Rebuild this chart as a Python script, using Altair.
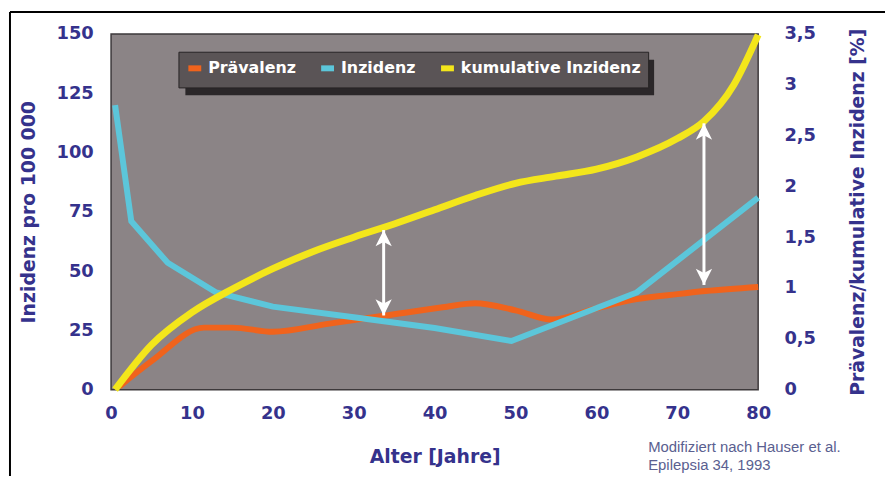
import altair as alt
import pandas as pd

# ---- data ----
ages_prev = [1, 5, 11.5, 15, 20, 27, 34, 41, 45, 50, 54.5, 60, 65, 70, 73.5, 80]
prevalence = [0.03, 0.28, 0.61, 0.61, 0.57, 0.65, 0.73, 0.81, 0.85, 0.78, 0.69, 0.80, 0.89, 0.94, 0.97, 1.01]

ages_inz = [0.5, 2.5, 7, 13, 20, 30, 40, 49.5, 65, 80]
incidence = [120, 71, 53.5, 41, 35, 30.5, 26, 20.5, 41, 81]

ages_kum = [0.5, 5, 10, 15, 20, 25, 30, 35, 40, 45, 50, 55, 60, 65, 70, 73.3, 77, 80]
cumulative = [0.0, 0.44, 0.76, 0.99, 1.19, 1.36, 1.5, 1.63, 1.77, 1.91, 2.03, 2.1, 2.17, 2.29, 2.47, 2.64, 3.0, 3.49]

arrow_ages = [33.7, 73.3]
arrow_low = [0.73, 1.03]
arrow_high = [1.57, 2.62]

series_names = ["Prävalenz", "Inzidenz", "kumulative Inzidenz"]
series_colors = ["#f0631c", "#5cc6da", "#f3e61b"]

x_ticks = [0, 10, 20, 30, 40, 50, 60, 70, 80]
left_ticks = [0, 25, 50, 75, 100, 125, 150]
right_ticks = [0, 0.5, 1, 1.5, 2, 2.5, 3, 3.5]

note_lines = ["Modifiziert nach Hauser et al.", "Epilepsia 34, 1993"]

# ---- tables ----
prev_df = pd.DataFrame({"age": ages_prev, "value": prevalence, "series": series_names[0]})
inz_df = pd.DataFrame({"age": ages_inz, "value": incidence, "series": series_names[1]})
kum_df = pd.DataFrame({"age": ages_kum, "value": cumulative, "series": series_names[2]})
arr_df = pd.DataFrame({"age": arrow_ages, "low": arrow_low, "high": arrow_high})
one = pd.DataFrame({"k": [0]})

AX = "#35328c"
FONT = "DejaVu Sans"

x_enc = alt.X(
    "age:Q",
    scale=alt.Scale(domain=[0, 80], nice=False, zero=False),
    axis=alt.Axis(values=x_ticks, title="Alter [Jahre]", labelPadding=15, titlePadding=26,
                  labelFlush=False),
)

color_enc = alt.Color(
    "series:N",
    scale=alt.Scale(domain=series_names, range=series_colors),
    legend=alt.Legend(
        orient="none", legendX=68, legendY=18, direction="horizontal", title=None,
        fillColor="#5a5456", strokeColor="#262324", padding=7,
        labelColor="white", labelFont=FONT, labelFontWeight="bold", labelFontSize=16,
        labelLimit=400,
        symbolType="stroke", symbolStrokeWidth=6, symbolSize=169, labelOffset=4,
        columnPadding=13,
    ),
)

right_scale = alt.Scale(domain=[0, 3.5], nice=False, zero=True)

prev_line = alt.Chart(prev_df).mark_line(strokeWidth=6, interpolate="monotone").encode(
    x=x_enc,
    y=alt.Y("value:Q", scale=right_scale, axis=None),
    color=color_enc,
)

inz_line = alt.Chart(inz_df).mark_line(strokeWidth=6).encode(
    x=x_enc,
    y=alt.Y("value:Q", scale=alt.Scale(domain=[0, 150], nice=False),
            axis=alt.Axis(orient="left", values=left_ticks, title="Inzidenz pro 100 000",
                          labelPadding=18, titlePadding=18)),
    color=color_enc,
)

kum_line = alt.Chart(kum_df).mark_line(strokeWidth=7, interpolate="monotone").encode(
    x=x_enc,
    y=alt.Y("value:Q", scale=right_scale,
            axis=alt.Axis(orient="right", values=right_ticks,
                          title="Prävalenz/kumulative Inzidenz [%]", titleAngle=270,
                          labelExpr="replace(toString(datum.value), '.', ',')",
                          labelPadding=26, titlePadding=52)),
    color=color_enc,
)

shafts = alt.Chart(arr_df).mark_rule(color="white", strokeWidth=3).encode(
    x=x_enc,
    y=alt.Y("low:Q", scale=right_scale, axis=None),
    y2="high:Q",
)
head_up = alt.Chart(arr_df).mark_point(
    shape="M0,0L0.75,1.5L0,1.1L-0.75,1.5Z", filled=True, color="white", opacity=1, size=480
).encode(x=x_enc, y=alt.Y("high:Q", scale=right_scale, axis=None))
head_down = alt.Chart(arr_df).mark_point(
    shape="M0,0L0.75,-1.5L0,-1.1L-0.75,-1.5Z", filled=True, color="white", opacity=1, size=480
).encode(x=x_enc, y=alt.Y("low:Q", scale=right_scale, axis=None))

legend_shadow = alt.Chart(one).mark_rect(color="#2b2729").encode(
    x=alt.value(75), x2=alt.value(548), y=alt.value(26), y2=alt.value(62)
)

frame_top = alt.Chart(one).mark_rule(color="black", strokeWidth=2).encode(
    x=alt.value(-102), x2=alt.value(790), y=alt.value(-22)
)
frame_left = alt.Chart(one).mark_rule(color="black", strokeWidth=2).encode(
    x=alt.value(-102), y=alt.value(-22), y2=alt.value(460)
)

note = alt.Chart(one).mark_text(
    text=note_lines, align="left", baseline="middle", font="Liberation Sans",
    fontSize=15, color="#5a6090", lineHeight=18,
).encode(x=alt.value(542), y=alt.value(417))

chart = alt.layer(
    frame_top, frame_left, legend_shadow, prev_line, inz_line, kum_line,
    shafts, head_up, head_down, note,
).resolve_scale(y="independent").properties(
    width=653, height=359,
    autosize=alt.AutoSizeParams(type="none"),
    padding={"left": 104, "top": 24, "right": 128, "bottom": 85},
    background="white",
).configure_view(
    fill="#8b8486", stroke="#3d393b", strokeWidth=1.5,
).configure_axis(
    grid=False, ticks=False, domain=False,
    labelFont=FONT, labelFontWeight="bold", labelFontSize=18, labelColor=AX,
    titleFont=FONT, titleFontWeight="bold", titleFontSize=19, titleColor=AX,
)

chart.save("out.html", embed_options={"renderer": "svg", "actions": False})
